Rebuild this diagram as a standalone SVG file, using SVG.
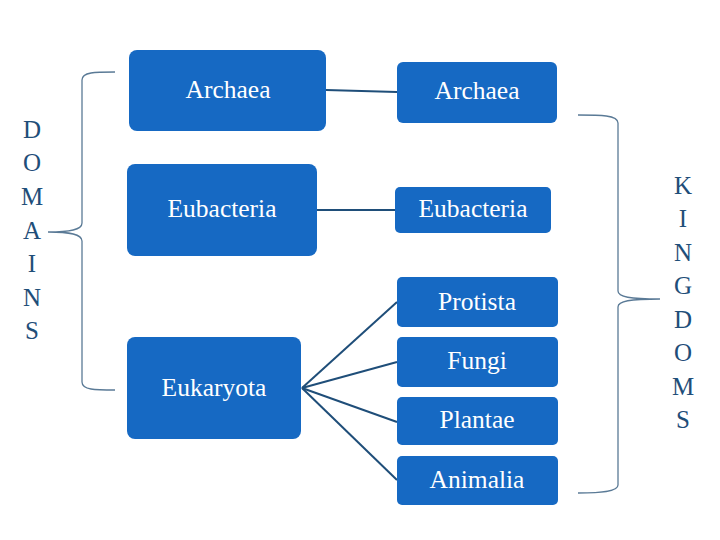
<svg xmlns="http://www.w3.org/2000/svg" width="720" height="540" viewBox="0 0 720 540">
<style>
.box{fill:#1669c3}
.lbl{font-family:"Liberation Serif",serif;font-size:25.5px;fill:#ffffff;text-anchor:middle}
.vt{font-family:"Liberation Serif",serif;font-size:25px;fill:#1f4e79;text-anchor:middle}
.con{stroke:#1f4e79;stroke-width:2;fill:none}
.brace{stroke:#5a7a96;stroke-width:1.3;fill:none}
</style>
<rect width="720" height="540" fill="#ffffff"/>
<g id="connectors">
<line class="con" x1="326" y1="90" x2="397" y2="92"/>
<line class="con" x1="317" y1="210" x2="395" y2="210"/>
<line class="con" x1="302" y1="388" x2="397" y2="302"/>
<line class="con" x1="302" y1="388" x2="397" y2="362"/>
<line class="con" x1="302" y1="388" x2="397" y2="422"/>
<line class="con" x1="302" y1="388" x2="397" y2="480"/>
</g>
<g id="brace-domains">
<path class="brace" d="M115,72 C95,72 82,72 82,80 L82,223 C82,230 70,232 48,232 C70,232 82,234 82,241 L82,382 C82,390 95,390 115,390"/>
<text class="vt" x="32" y="138">D</text>
<text class="vt" x="32" y="171">O</text>
<text class="vt" x="32" y="205">M</text>
<text class="vt" x="32" y="239">A</text>
<text class="vt" x="32" y="272">I</text>
<text class="vt" x="32" y="306">N</text>
<text class="vt" x="32" y="339">S</text>
</g>
<g id="brace-kingdoms">
<path class="brace" d="M578,115 C600,115 618,115 618,123 L618,291 C618,297 630,299 660,299 C630,299 618,301 618,307 L618,485 C618,492 600,493 578,493"/>
<text class="vt" x="683" y="194">K</text>
<text class="vt" x="683" y="227">I</text>
<text class="vt" x="683" y="261">N</text>
<text class="vt" x="683" y="294">G</text>
<text class="vt" x="683" y="328">D</text>
<text class="vt" x="683" y="361">O</text>
<text class="vt" x="683" y="395">M</text>
<text class="vt" x="683" y="428">S</text>
</g>
<g id="domain-archaea"><rect class="box" x="129" y="50" width="197" height="81" rx="8"/><text class="lbl" x="228" y="98">Archaea</text></g>
<g id="domain-eubacteria"><rect class="box" x="127" y="164" width="190" height="92" rx="8"/><text class="lbl" x="222" y="217">Eubacteria</text></g>
<g id="domain-eukaryota"><rect class="box" x="127" y="337" width="174" height="102" rx="8"/><text class="lbl" x="214" y="396">Eukaryota</text></g>
<g id="kingdom-archaea"><rect class="box" x="397" y="62" width="160" height="61" rx="6"/><text class="lbl" x="477" y="99">Archaea</text></g>
<g id="kingdom-eubacteria"><rect class="box" x="395" y="187" width="156" height="46" rx="5"/><text class="lbl" x="473" y="217">Eubacteria</text></g>
<g id="kingdom-protista"><rect class="box" x="397" y="277" width="161" height="50" rx="5"/><text class="lbl" x="477" y="310">Protista</text></g>
<g id="kingdom-fungi"><rect class="box" x="397" y="337" width="161" height="50" rx="5"/><text class="lbl" x="477" y="369">Fungi</text></g>
<g id="kingdom-plantae"><rect class="box" x="397" y="397" width="161" height="48" rx="5"/><text class="lbl" x="477" y="428">Plantae</text></g>
<g id="kingdom-animalia"><rect class="box" x="397" y="456" width="161" height="49" rx="5"/><text class="lbl" x="477" y="488">Animalia</text></g>
</svg>
